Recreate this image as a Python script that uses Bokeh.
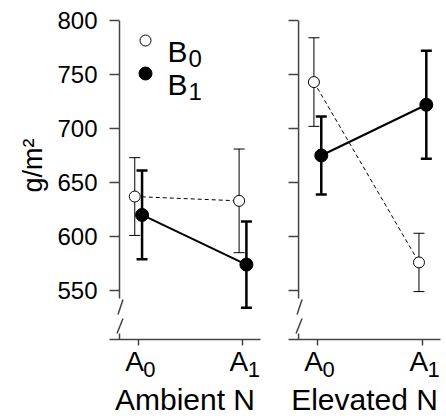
from bokeh.plotting import figure
from bokeh.models import (ColumnDataSource, Whisker, TeeHead, FixedTicker, Label, Range1d,
                          LinearAxis, Title)
from bokeh.layouts import row
from bokeh.embed import file_html
from bokeh.resources import INLINE

# ---------------- data ----------------
panel_titles = ["Ambient N", "Elevated N"]
level_base = ["A", "A"]
level_subs = ["0", "1"]
series_base = ["B", "B"]
series_subs = ["0", "1"]

ambient_b0_mean = [637, 633]
ambient_b0_se = [36, 48]
ambient_b1_mean = [620, 574]
ambient_b1_se = [41, 40]

elevated_b0_mean = [743, 576]
elevated_b0_se = [41, 27]
elevated_b1_mean = [675, 722]
elevated_b1_se = [36, 50]

y_ticks = [550, 600, 650, 700, 750, 800]
y_label = "g/m²"

# ---------------- style ----------------
FONT = "Liberation Sans"
AX = "#444444"
TOP_PX, BOT_PX = 20, 339     # frame top / bottom in pixels
PXY = 50.0 / 54.0            # data units per pixel (y)
Y1 = 800.0
Y0 = Y1 - (BOT_PX - TOP_PX) * PXY
X0, X1 = -0.277, 1.17
DODGE = 0.035
PXX = (X1 - X0) / 151.0      # data units per pixel (x)
AXIS_X = X0 + 10 * PXX


def ypx(px):
    return Y1 - (px - TOP_PX) * PXY


def add_errorbars(p, xs, means, ses, lw, head):
    src = ColumnDataSource(dict(x=xs, upper=[m + s for m, s in zip(means, ses)],
                                lower=[m - s for m, s in zip(means, ses)]))
    w = Whisker(source=src, base="x", upper="upper", lower="lower", dimension="height",
                line_color="black", line_width=lw,
                upper_head=TeeHead(size=head, line_width=lw, line_color="black"),
                lower_head=TeeHead(size=head, line_width=lw, line_color="black"))
    p.add_layout(w)


def make_panel(title, b0m, b0s, b1m, b1s, width, bl, br, labels, legend):
    p = figure(width=width, height=418, x_range=Range1d(X0, X1), y_range=Range1d(Y0, Y1),
               output_backend="svg", toolbar_location=None,
               min_border_left=bl, min_border_right=br, min_border_top=TOP_PX, min_border_bottom=0)
    p.outline_line_color = None
    p.grid.visible = False
    p.extra_x_ranges = {"sub": Range1d(X0 - 11 * PXX, X1 - 11 * PXX)}

    # main x axis: line, ticks, base letters
    xa = p.xaxis[0]
    xa.ticker = FixedTicker(ticks=[0, 1])
    xa.major_label_overrides = {i: t + "\u00a0" for i, t in enumerate(level_base)}
    xa.major_label_text_font = FONT
    xa.major_label_text_font_size = "28px"
    xa.major_label_text_color = "black"
    xa.major_label_standoff = 0
    xa.axis_line_color = AX
    xa.axis_line_width = 1.5
    xa.major_tick_line_color = AX
    xa.major_tick_line_width = 1.5
    xa.major_tick_in = 0
    xa.major_tick_out = 6
    xa.minor_tick_line_color = None

    # subscript axis: subscript digits shifted right/down + panel title
    sa = LinearAxis(x_range_name="sub", ticker=FixedTicker(ticks=[0, 1]))
    sa.major_label_overrides = {i: t for i, t in enumerate(level_subs)}
    sa.major_label_text_font = FONT
    sa.major_label_text_font_size = "22px"
    sa.major_label_text_color = "black"
    sa.major_label_standoff = -18
    sa.axis_line_color = None
    sa.major_tick_line_color = None
    sa.minor_tick_line_color = None
    sa.major_tick_in = 0
    sa.major_tick_out = 0
    sa.axis_label = title
    sa.axis_label_text_font = FONT
    sa.axis_label_text_font_size = "30px"
    sa.axis_label_text_font_style = "normal"
    sa.axis_label_text_color = "black"
    sa.axis_label_standoff = 3
    p.add_layout(sa, "below")

    ya = p.yaxis[0]
    ya.ticker = FixedTicker(ticks=y_ticks)
    ya.axis_line_color = None
    ya.major_tick_line_color = AX
    ya.major_tick_line_width = 1.5
    ya.major_tick_in = 10
    ya.major_tick_out = 0
    ya.minor_tick_line_color = None
    if labels:
        ya.major_label_text_font = FONT
        ya.major_label_text_font_size = "24px"
        ya.major_label_text_color = "black"
        ya.major_label_standoff = 12
        t = Title(text=y_label, align="right", offset=118, standoff=13,
                  text_font=FONT, text_font_size="27px", text_font_style="normal",
                  text_color="black")
        p.add_layout(t, "left")
    else:
        ya.major_label_overrides = {t: "" for t in y_ticks}
        ya.major_label_standoff = 0

    # y axis line with break
    p.segment(x0=[AXIS_X, AXIS_X], y0=[Y1, ypx(333)], x1=[AXIS_X, AXIS_X], y1=[ypx(298), Y0],
              line_color=AX, line_width=1.5)
    p.segment(x0=[AXIS_X + 3.5 * PXX, AXIS_X + 3.5 * PXX], y0=[ypx(299), ypx(318)],
              x1=[AXIS_X - 1.5 * PXX, AXIS_X - 2.5 * PXX], y1=[ypx(314), ypx(333)],
              line_color=AX, line_width=1.5)

    idx = list(range(len(level_base)))
    xb0 = [i - DODGE for i in idx]
    xb1 = [i + DODGE for i in idx]

    # B0: dashed, thin
    p.line(xb0, b0m, line_color="black", line_width=1, line_dash="4 3")
    add_errorbars(p, xb0, b0m, b0s, 1, 11)
    p.scatter(xb0, b0m, marker="circle", size=11, fill_color="white", line_color="black", line_width=1)
    # B1: solid, thick
    p.line(xb1, b1m, line_color="black", line_width=2)
    add_errorbars(p, xb1, b1m, b1s, 2.5, 11)
    p.scatter(xb1, b1m, marker="circle", size=13, fill_color="black", line_color="black")

    if legend:
        lx = X0 + 36 * PXX
        rows_y = [ypx(40), ypx(73)]
        p.scatter([lx], [rows_y[0]], marker="circle", size=11, fill_color="white",
                  line_color="black", line_width=1)
        p.scatter([lx], [rows_y[1]], marker="circle", size=13, fill_color="black", line_color="black")
        for ry, b, s in zip(rows_y, series_base, series_subs):
            p.add_layout(Label(x=lx, y=ry, x_offset=22, y_offset=-11, text=b, text_align="left",
                               text_baseline="alphabetic", text_font=FONT, text_font_size="30px",
                               text_color="black"))
            p.add_layout(Label(x=lx, y=ry, x_offset=43, y_offset=-18, text=s, text_align="left",
                               text_baseline="alphabetic", text_font=FONT, text_font_size="24px",
                               text_color="black"))
    return p


p1 = make_panel(panel_titles[0], ambient_b0_mean, ambient_b0_se, ambient_b1_mean, ambient_b1_se,
                274, 109, 14, True, True)
p2 = make_panel(panel_titles[1], elevated_b0_mean, elevated_b0_se, elevated_b1_mean, elevated_b1_se,
                172, 14, 6, False, False)

layout = row(p1, p2)
open("out.html", "w").write(file_html(layout, INLINE))
